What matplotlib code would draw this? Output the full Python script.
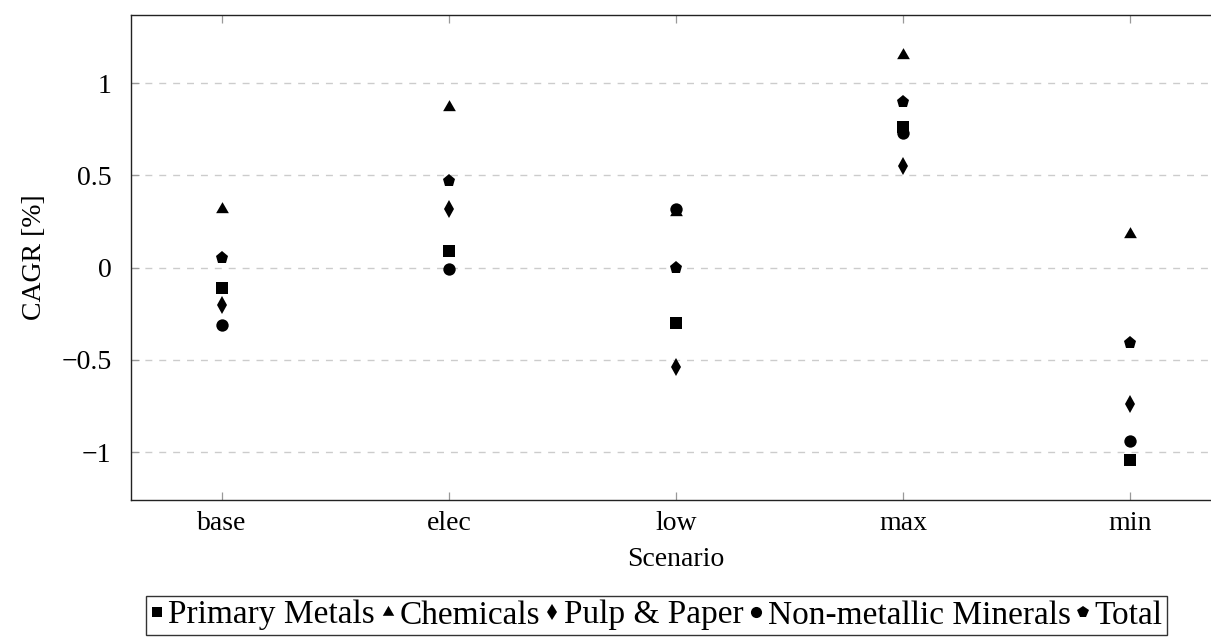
import matplotlib
matplotlib.use("Agg")
import matplotlib.pyplot as plt

# Compound annual growth rate of energy demand per industry, by scenario
scenarios = ["base", "elec", "low", "max", "min"]
primary_metals = [-0.11, 0.09, -0.30, 0.76, -1.04]
chemicals = [0.32, 0.87, 0.30, 1.15, 0.18]
pulp_paper = [-0.20, 0.32, -0.54, 0.55, -0.74]
non_metallic = [-0.31, -0.01, 0.32, 0.73, -0.94]
total = [0.05, 0.47, 0.00, 0.90, -0.41]

series_names = ["Primary Metals", "Chemicals", "Pulp & Paper",
                "Non-metallic Minerals", "Total"]
yticks = [-1, -0.5, 0, 0.5, 1]
ytick_labels = ["\u22121", "\u22120.5", "0", "0.5", "1"]

plt.rcParams["font.family"] = ["Liberation Serif", "DejaVu Serif"]
plt.rcParams["mathtext.fontset"] = "stix"

# equilateral triangle, centred like pgfplots' triangle*
tri = [(0, 1), (-0.866, -0.5), (0.866, -0.5)]
styles = [
    dict(marker="s", ms=8.6),
    dict(marker=tri, ms=10.6),
    dict(marker="d", ms=9.0),
    dict(marker="o", ms=8.9),
    dict(marker="p", ms=9.4),
]

fig = plt.figure(figsize=(12.11, 6.40), dpi=100)
ax = fig.add_axes([131 / 1211, 140 / 640, 1090 / 1211, 485 / 640])

x = list(range(len(scenarios)))
all_series = [primary_metals, chemicals, pulp_paper, non_metallic, total]
handles = []
for name, vals, st in zip(series_names, all_series, styles):
    h, = ax.plot(x, vals, linestyle="none", color="black",
                 markeredgewidth=0, label=name, **st)
    handles.append(h)

lo = min(min(s) for s in all_series)
hi = max(max(s) for s in all_series)
pad = 0.1 * (hi - lo)
ax.set_ylim(lo - pad, hi + pad)
ax.set_xlim(-0.4, len(scenarios) - 1 + 0.4)

ax.set_xticks(x)
ax.set_xticklabels(scenarios)
ax.set_yticks(yticks)
ax.set_yticklabels(ytick_labels)

ax.yaxis.grid(True, color="#cccccc", linestyle=(0, (5, 5)), linewidth=1.0)
ax.set_axisbelow(True)

ax.tick_params(axis="both", which="major", direction="in", length=6,
               width=0.9, color="#999999", labelsize=20,
               top=True, right=True, labelcolor="black")
ax.tick_params(axis="x", pad=8)
ax.tick_params(axis="y", pad=14)
for sp in ax.spines.values():
    sp.set_linewidth(1.0)
    sp.set_color("#222222")

ax.set_xlabel("Scenario", fontsize=20, labelpad=8)
ax.set_ylabel("CAGR [%]", fontsize=20, labelpad=10)

leg = fig.legend(handles=handles, labels=series_names, loc="upper center",
                 bbox_to_anchor=(656 / 1211, 1 - 596 / 640),
                 bbox_transform=fig.transFigure, ncol=5, fontsize=24,
                 frameon=True, fancybox=False, edgecolor="black",
                 handlelength=0.45, handletextpad=0.12, columnspacing=0.15,
                 borderpad=0.12, borderaxespad=0, markerscale=0.9)
leg.get_frame().set_linewidth(1.0)

fig.savefig("out.png", dpi=100)
